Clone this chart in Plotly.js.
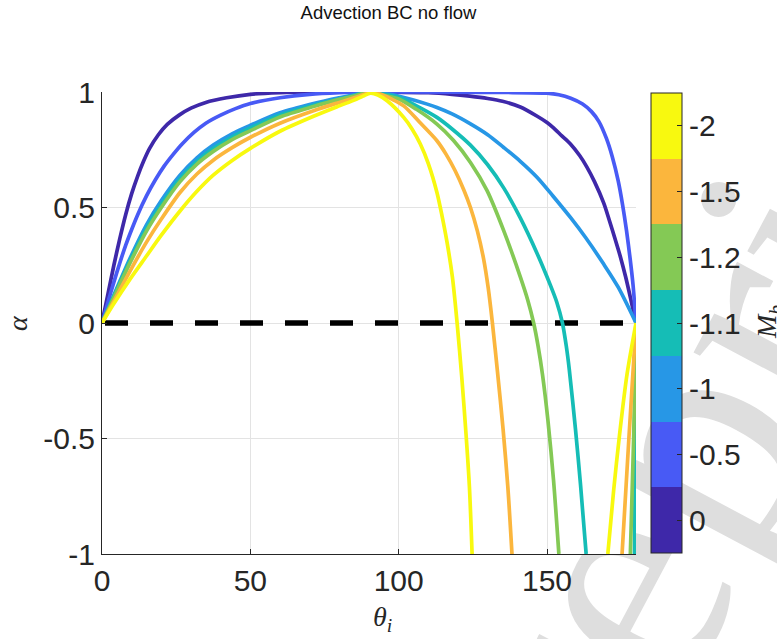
<!DOCTYPE html>
<html>
<head>
<meta charset="utf-8">
<script src="https://cdn.plot.ly/plotly-3.0.1.min.js"></script>
<style>
  html, body { margin: 0; padding: 0; background: #ffffff; }
  #chart { width: 777px; height: 639px; }
</style>
</head>
<body>
<div id="chart"></div>
<script>
// ---- Data ----
const mbLabels = ['0', '-0.5', '-1', '-1.1', '-1.2', '-1.5', '-2'];
const lineColors = ['#3e28a9', '#485af5', '#2797e6', '#15bdb6', '#84c955', '#fbb63d', '#f8f90f'];

const xTickVals = [0, 50, 100, 150];
const xTickText = ['0', '50', '100', '150'];
const yTickVals = [-1, -0.5, 0, 0.5, 1];
const yTickText = ['-1', '-0.5', '0', '0.5', '1'];

// M_b = 0
const theta0 = [0, 2, 4, 6, 8, 10, 12, 14, 16, 19, 22, 26, 30, 35, 42, 50, 60, 70, 90, 110, 118, 124, 130, 135, 141, 146.7, 150, 152, 155, 157.9, 161, 163.5, 166, 169.1, 171, 172.8, 174.8, 176.5, 178.1, 180];
const alpha0 = [0, 0.125, 0.25, 0.365, 0.47, 0.56, 0.635, 0.7, 0.755, 0.815, 0.86, 0.9, 0.93, 0.955, 0.975, 0.99, 0.997, 1, 1, 0.997, 0.99, 0.982, 0.972, 0.96, 0.935, 0.895, 0.868, 0.847, 0.81, 0.775, 0.725, 0.674, 0.612, 0.52, 0.445, 0.37, 0.284, 0.2, 0.111, 0];

// M_b = -0.5
const theta1 = [0, 2, 4, 6, 8, 10, 12, 15, 18, 21, 24, 27, 31, 35, 40, 45, 50, 60, 70, 80, 90, 120, 135, 150, 154, 158, 162, 165, 167.5, 170, 172, 174, 175.5, 176.8, 178, 179, 180];
const alpha1 = [0, 0.09, 0.177, 0.26, 0.337, 0.405, 0.468, 0.55, 0.62, 0.68, 0.73, 0.775, 0.825, 0.865, 0.9, 0.928, 0.95, 0.975, 0.99, 0.997, 1, 0.999, 0.998, 0.995, 0.988, 0.973, 0.948, 0.915, 0.872, 0.8, 0.72, 0.615, 0.51, 0.4, 0.28, 0.165, 0];

// M_b = -1
const theta2 = [0, 3.8, 9.45, 15, 20, 26.3, 32, 37.5, 44, 49.9, 60, 71.3, 80, 85, 88, 90.5, 93.5, 99.1, 105, 112.9, 118, 124.2, 130, 135.4, 141, 146.7, 152, 157.9, 163, 169.1, 174, 180];
const alpha2 = [0, 0.115, 0.28, 0.425, 0.53, 0.64, 0.715, 0.77, 0.82, 0.855, 0.91, 0.95, 0.975, 0.988, 0.996, 1, 0.996, 0.985, 0.965, 0.933, 0.905, 0.862, 0.815, 0.76, 0.7, 0.63, 0.55, 0.457, 0.37, 0.255, 0.155, 0];

// M_b = -1.1 (main branch, then the branch returning to 180)
const theta3 = [0, 3.8, 9.45, 15, 20, 26.3, 32, 37.5, 44, 49.9, 60, 71.3, 80, 85, 88, 90.5, 93.5, 100, 106, 112.9, 118, 124.2, 130, 135.4, 141, 146.7, 151.1, 153.3, 155.2, 156.5, 157.5, 159.6, 161.3, 163.2, null, 179.5, 179.8, 180];
const alpha3 = [0, 0.11, 0.27, 0.41, 0.513, 0.625, 0.7, 0.755, 0.806, 0.843, 0.9, 0.943, 0.97, 0.985, 0.995, 1, 0.993, 0.977, 0.94, 0.89, 0.84, 0.77, 0.685, 0.585, 0.455, 0.3, 0.165, 0.09, 0, -0.1, -0.2, -0.46, -0.7, -1, null, -1, -0.5, 0];

// M_b = -1.2
const theta4 = [0, 3.8, 9.45, 15, 20, 26.3, 32, 37.5, 44, 49.9, 60, 71.3, 80, 85, 88, 90.5, 93.5, 100, 106, 112.9, 118.5, 124.2, 129.8, 135.4, 141, 143.5, 145.5, 147, 148.5, 150.3, 152.2, 154, null, 178.1, 179.2, 180];
const alpha4 = [0, 0.105, 0.26, 0.398, 0.5, 0.612, 0.688, 0.743, 0.795, 0.832, 0.892, 0.937, 0.968, 0.983, 0.994, 1, 0.99, 0.97, 0.925, 0.861, 0.79, 0.695, 0.573, 0.4, 0.2, 0.1, 0, -0.1, -0.225, -0.42, -0.68, -1, null, -1, -0.5, 0];

// M_b = -1.5
const theta5 = [0, 3.8, 9.45, 15, 20, 26.3, 32, 37.5, 44, 49.9, 60, 71.3, 80, 85, 88, 90.5, 94, 97.5, 101.7, 107, 112.9, 116, 119, 122, 124.2, 126.5, 128.6, 130.2, 131.6, 133.3, 135.2, 136.8, 138.2, null, 175.3, 177.6, 180];
const alpha5 = [0, 0.09, 0.225, 0.35, 0.45, 0.565, 0.645, 0.705, 0.76, 0.803, 0.865, 0.919, 0.955, 0.975, 0.988, 0.998, 0.99, 0.97, 0.94, 0.87, 0.789, 0.73, 0.66, 0.575, 0.5, 0.4, 0.28, 0.15, 0, -0.21, -0.46, -0.71, -1, null, -1, -0.5, 0];

// M_b = -2
const theta6 = [0, 3.8, 9.45, 15, 20, 26.3, 32, 37.5, 44, 49.9, 60, 71.3, 80, 85, 88, 90.5, 93, 96.1, 101.7, 104.5, 107.3, 110, 112.9, 114.6, 116.3, 118.1, 119.7, 121.3, 122.7, 123.85, 124.75, null, 170.5, 172.5, 174.4, 177, 180];
const alpha6 = [0, 0.08, 0.19, 0.29, 0.38, 0.485, 0.57, 0.64, 0.705, 0.755, 0.83, 0.895, 0.94, 0.965, 0.982, 0.995, 0.987, 0.962, 0.89, 0.84, 0.775, 0.69, 0.565, 0.465, 0.35, 0.2, 0, -0.24, -0.48, -0.71, -1, null, -1, -0.72, -0.49, -0.22, 0];

// reference line alpha = 0
const thetaRef = [0, 180];
const alphaRef = [0, 0];

const thetaSeries = [theta0, theta1, theta2, theta3, theta4, theta5, theta6];
const alphaSeries = [alpha0, alpha1, alpha2, alpha3, alpha4, alpha5, alpha6];

// ---- Figure ----
const axisColor = '#262626';
const tickFont = { family: 'Liberation Sans, Arial, sans-serif', size: 30, color: axisColor };
const mathFont = { family: 'Liberation Serif, Times New Roman, serif', size: 28, color: axisColor };

const traces = [];
traces.push({
  type: 'scatter', mode: 'lines', x: thetaRef, y: alphaRef,
  line: { color: '#000000', width: 5.5, dash: '0px,3px,23px,19px' },
  hoverinfo: 'skip', showlegend: false, cliponaxis: false
});
thetaSeries.forEach((th, i) => {
  traces.push({
    type: 'scatter', mode: 'lines', x: th, y: alphaSeries[i],
    connectgaps: false,
    line: { color: lineColors[i], width: 3.7, shape: 'spline', smoothing: 0.8 },
    name: mbLabels[i], hoverinfo: 'skip', showlegend: false, cliponaxis: false
  });
});

// colour bar (discrete)
const cbIdx = mbLabels.map((_, i) => i);
const nC = lineColors.length;
const cscale = [];
lineColors.forEach((c, i) => { cscale.push([i / nC, c]); cscale.push([(i + 1) / nC, c]); });
traces.push({
  type: 'scatter', mode: 'markers', x: cbIdx.map(() => null), y: cbIdx.map(() => null),
  hoverinfo: 'skip', showlegend: false,
  marker: {
    color: cbIdx, cmin: -0.5, cmax: nC - 0.5, colorscale: cscale, showscale: true, opacity: 0,
    colorbar: {
      x: (651 - 102) / 534, xanchor: 'left', xpad: 0, ypad: 0,
      y: 0.5, yanchor: 'middle',
      thickness: 31, thicknessmode: 'pixels', len: 460, lenmode: 'pixels',
      outlinewidth: 1, outlinecolor: axisColor, borderwidth: 0,
      tickmode: 'array', tickvals: cbIdx, ticktext: mbLabels,
      ticks: 'inside', ticklen: 5, tickcolor: axisColor, tickwidth: 1,
      tickfont: tickFont
    }
  }
});

const layout = {
  width: 777, height: 639,
  margin: { l: 102, r: 141, t: 92, b: 85, pad: 0 },
  paper_bgcolor: '#ffffff', plot_bgcolor: '#ffffff',
  showlegend: false,
  title: {
    text: 'Advection BC no flow',
    font: { family: 'Liberation Sans, Arial, sans-serif', size: 18.5, color: '#111111' },
    xref: 'container', x: 0.5, xanchor: 'center',
    yref: 'container', y: 1 - 13 / 639, yanchor: 'middle'
  },
  xaxis: {
    range: [0, 180], tickmode: 'array', tickvals: xTickVals, ticktext: xTickText,
    showgrid: true, gridcolor: '#e3e3e3', gridwidth: 1, zeroline: false,
    showline: true, linecolor: axisColor, linewidth: 1, mirror: false,
    ticks: 'inside', ticklen: 5, tickcolor: axisColor, tickwidth: 1,
    tickfont: tickFont, fixedrange: true
  },
  yaxis: {
    range: [-1, 1], tickmode: 'array', tickvals: yTickVals, ticktext: yTickText,
    showgrid: true, gridcolor: '#e3e3e3', gridwidth: 1, zeroline: false,
    showline: true, linecolor: axisColor, linewidth: 1, mirror: false,
    ticks: 'inside', ticklen: 5, tickcolor: axisColor, tickwidth: 1,
    tickfont: tickFont, fixedrange: true
  },
  shapes: [
    {
      type: 'rect', xref: 'paper', yref: 'paper', layer: 'below',
      x0: 1.038, x1: 1.052, y0: 0.272, y1: 0.286,
      line: { width: 0 }, fillcolor: 'rgba(0,0,0,0)',
      label: {
        text: 'Preprint', textangle: -62, textposition: 'middle center',
        xanchor: 'center', yanchor: 'middle',
        font: { family: 'Liberation Serif, Times New Roman, serif', size: 330, color: '#dedede' }
      }
    },
    {
      type: 'rect', xref: 'paper', yref: 'paper', layer: 'below',
      x0: 0, x1: 1, y0: 0, y1: 1, line: { width: 0 }, fillcolor: '#ffffff'
    }
  ],
  annotations: [
    {
      text: '<i>α</i>', xref: 'paper', yref: 'paper',
      x: (17 - 102) / 534, y: 0.5, xanchor: 'center', yanchor: 'middle',
      textangle: -90, showarrow: false, font: mathFont
    },
    {
      text: '<i>θ</i><sub><i>i</i></sub>', xref: 'paper', yref: 'paper',
      x: (382 - 102) / 534, y: (554 - 618) / 462, xanchor: 'center', yanchor: 'middle',
      showarrow: false, font: mathFont
    },
    {
      text: '<i>M</i><sub><i>b</i></sub>', xref: 'paper', yref: 'paper',
      x: (768 - 102) / 534, y: (554 - 322) / 462, xanchor: 'center', yanchor: 'middle',
      textangle: -90, showarrow: false, font: mathFont
    }
  ]
};

Plotly.newPlot('chart', traces, layout, { displayModeBar: false, staticPlot: true });
</script>
</body>
</html>
